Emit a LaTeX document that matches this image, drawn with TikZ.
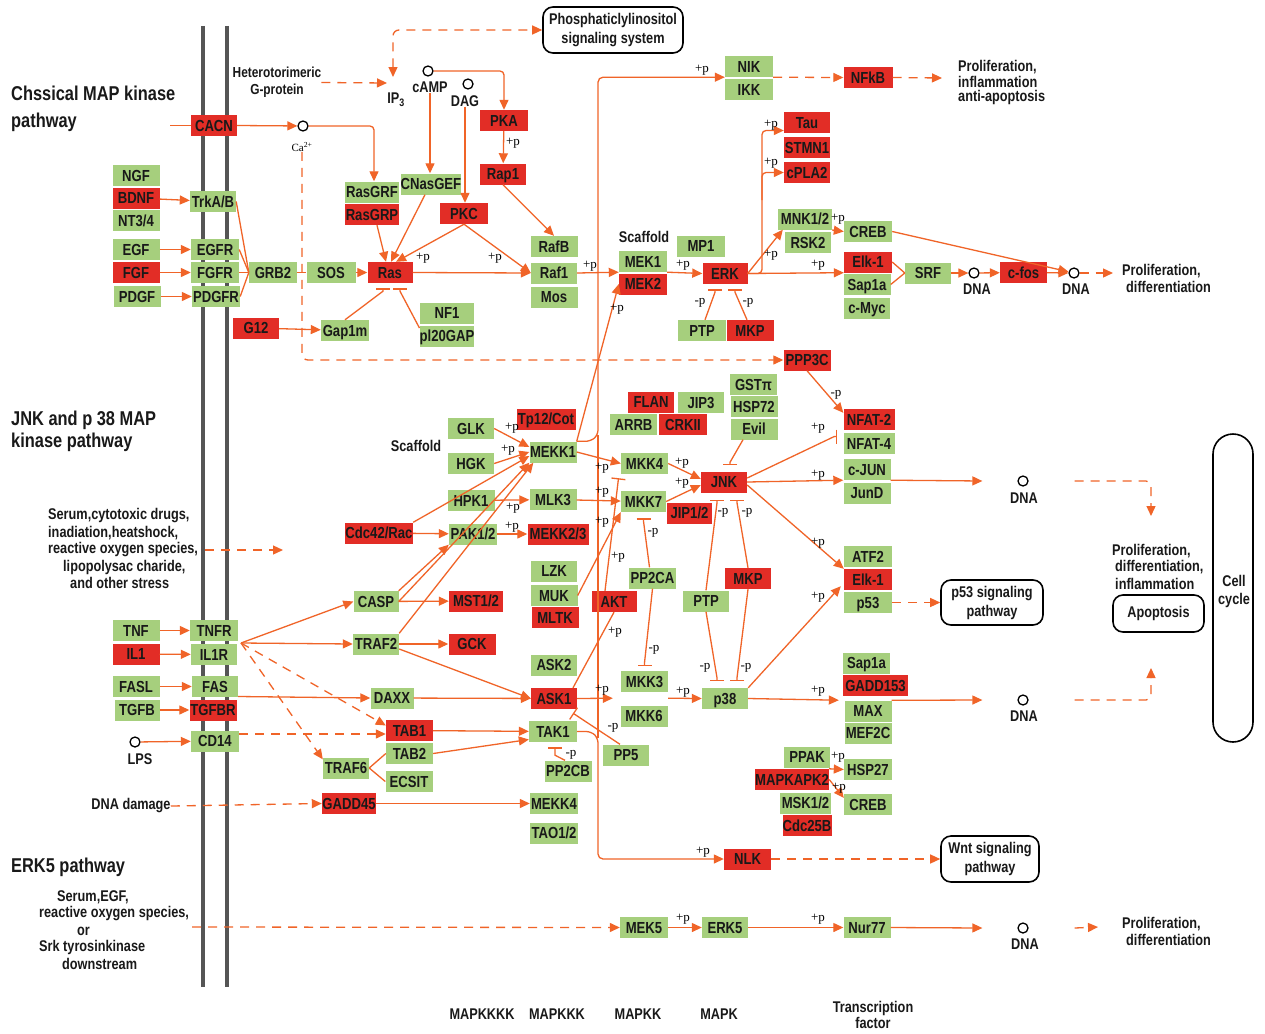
\documentclass[tikz,border=0pt]{standalone}
\usepackage{fontspec}
\setmainfont{Liberation Sans}[FakeStretch=0.82]
\newfontfamily\pfont{Liberation Serif}
\usetikzlibrary{arrows.meta,calc}
\definecolor{kgreen}{RGB}{166,207,125}
\definecolor{kred}{RGB}{226,45,38}
\definecolor{lc}{RGB}{240,100,40}
\definecolor{mem}{RGB}{85,85,85}
\definecolor{tc}{RGB}{25,25,25}
\tikzset{
 box/.style={minimum height=21, inner sep=0pt, text height=12, text depth=0.5, text=tc, font=\bfseries\fontsize{16}{18}\selectfont},
 gbox/.style={box, fill=kgreen},
 rbox/.style={box, fill=kred},
 ln/.style={draw=lc, line width=1.3pt},
 ar/.style={ln, -{Triangle[length=10pt,width=9pt]}},
 da/.style={ar, dash pattern=on 9pt off 7pt},
 inh/.style={ln, -{Bar[width=14pt,line width=1.3pt]}},
 pl/.style={font=\pfont\fontsize{13}{13}\selectfont, inner sep=0pt},
 txt/.style={font=\bfseries\fontsize{15.5}{16}\selectfont, inner sep=0pt, text=tc},
 hd/.style={font=\bfseries\fontsize{20}{22}\selectfont, inner sep=0pt, anchor=west, text=tc},
 dna/.style={circle, draw=black, line width=1.3pt, minimum size=10, inner sep=0pt},
 rbx/.style={draw=black, line width=1.6pt, rounded corners=10, fill=white, align=center, text=tc, font=\bfseries\fontsize{15.5}{19}\selectfont, inner sep=0pt},
}
\newcommand{\GBox}[4]{\node[gbox,minimum width=#4] (#1) at (#2) {#3};}
\newcommand{\RBox}[4]{\node[rbox,minimum width=#4] (#1) at (#2) {#3};}
\newcommand{\PLab}[3]{\node[pl] (#1) at (#2) {#3};}
\newcommand{\TLeft}[3]{\node[txt,anchor=west] (#1) at (#2) {#3};}
\newcommand{\TCen}[3]{\node[txt] (#1) at (#2) {#3};}
\begin{document}
\begin{tikzpicture}[x=1pt,y=-1pt]
\fill[white] (0,0) rectangle (1265,1033);
\useasboundingbox (0,0) rectangle (1265,1033);
\draw[mem, line width=4.5pt] (203,26) -- (203,987);
\draw[mem, line width=4.5pt] (227,26) -- (227,987);

% ---------- nodes: classical MAPK
\RBox{CACN}{214,125.5}{CACN}{46}
\GBox{NGF}{136,175.5}{NGF}{47}
\RBox{BDNF}{136,198}{BDNF}{47}
\GBox{NT34}{136,220.5}{NT3/4}{47}
\GBox{EGF}{136,249.5}{EGF}{47}
\RBox{FGF}{136,272.5}{FGF}{47}
\GBox{PDGF}{137,296.5}{PDGF}{47}
\GBox{TrkA}{213,201.5}{TrkA/B}{46}
\GBox{EGFR}{215,249.5}{EGFR}{48}
\GBox{FGFR}{215,272.5}{FGFR}{48}
\GBox{PDGFR}{216,296.5}{PDGFR}{48}
\GBox{GRB2}{273,272.5}{GRB2}{48}
\GBox{SOS}{331,272.5}{SOS}{49}
\RBox{Ras}{390,272.5}{Ras}{45}
\GBox{RasGRF}{372,192}{RasGRF}{54}
\RBox{RasGRP}{372,214.5}{RasGRP}{54}
\GBox{CNasGEF}{431,184}{CNasGEF}{57}
\RBox{PKA}{504,120.5}{PKA}{48}
\RBox{Rap1}{503,174}{Rap1}{46}
\RBox{PKC}{464,213.5}{PKC}{48}
\GBox{RafB}{554,246.5}{RafB}{47}
\GBox{Raf1}{554,273}{Raf1}{46}
\GBox{Mos}{554,297}{Mos}{47}
\RBox{G12}{256,328}{G12}{46}
\GBox{Gap1m}{345,330.5}{Gap1m}{48}
\GBox{NF1}{447,313}{NF1}{54}
\GBox{pl20GAP}{447,336}{pl20GAP}{54}
\GBox{MEK1}{643,261.5}{MEK1}{48}
\RBox{MEK2}{643,284}{MEK2}{48}
\GBox{MP1}{701,246}{MP1}{48}
\RBox{ERK}{725,273.5}{ERK}{45}
\GBox{PTP1}{702,330.5}{PTP}{48}
\RBox{MKP1}{750,330.5}{MKP}{47}
\GBox{NIK}{749,66.5}{NIK}{48}
\GBox{IKK}{749,89.5}{IKK}{48}
\RBox{NFkB}{868,77.5}{NFkB}{49}
\RBox{Tau}{807,122.5}{Tau}{46}
\RBox{STMN1}{807,147.5}{STMN1}{46}
\RBox{cPLA2}{807,172.5}{cPLA2}{46}
\GBox{MNK}{805,219}{MNK1/2}{54}
\GBox{RSK2}{808,242.5}{RSK2}{46}
\GBox{CREB1}{868,231.5}{CREB}{48}
\RBox{Elk1a}{868,262}{Elk-1}{48}
\GBox{Sap1a1}{867,284.5}{Sap1a}{47}
\GBox{cMyc}{867,308}{c-Myc}{46}
\GBox{SRF}{928,273}{SRF}{46}
\RBox{cfos}{1023.5,272.5}{c-fos}{47}
\RBox{PPP3C}{807,360}{PPP3C}{47}

% ---------- nodes: JNK / p38
\GBox{GLK}{471,428.5}{GLK}{46}
\GBox{HGK}{471,463.5}{HGK}{46}
\RBox{Tp12}{546,419}{Tp12/Cot}{59}
\GBox{MEKK1}{553,452}{MEKK1}{47}
\GBox{HPK1}{471,500.5}{HPK1}{47}
\GBox{MLK3}{553,499.5}{MLK3}{47}
\RBox{Cdc42}{379,533}{Cdc42/Rac}{68}
\GBox{PAK}{473,534}{PAK1/2}{48}
\RBox{MEKK23}{558,534}{MEKK2/3}{61}
\GBox{LZK}{554,571}{LZK}{46}
\GBox{MUK}{554,595.5}{MUK}{47}
\RBox{MLTK}{555,617.5}{MLTK}{47}
\RBox{AKT}{614,601.5}{AKT}{45}
\RBox{FLAN}{651,402}{FLAN}{46}
\GBox{JIP3}{701,402.5}{JIP3}{46}
\GBox{ARRB}{633.5,424.5}{ARRB}{47}
\RBox{CRKII}{683,424.5}{CRKII}{48}
\GBox{GSTpi}{753.5,384.5}{GSTπ}{47}
\GBox{HSP72}{754,406.5}{HSP72}{47}
\GBox{Evil}{754,429}{Evil}{47}
\GBox{MKK4}{644.5,463.5}{MKK4}{47}
\GBox{MKK7}{643.5,501.5}{MKK7}{45}
\RBox{JNK}{724,482}{JNK}{46}
\RBox{JIP12}{689.5,513}{JIP1/2}{45}
\GBox{PP2CA}{652.5,578}{PP2CA}{47}
\GBox{PTP2}{706,601}{PTP}{46}
\RBox{MKP2}{748,578.5}{MKP}{46}
\RBox{NFAT2}{869,419.5}{NFAT-2}{51}
\GBox{NFAT4}{869,443.5}{NFAT-4}{51}
\GBox{cJUN}{867,469.5}{c-JUN}{47}
\GBox{JunD}{867,493}{JunD}{47}
\GBox{ATF2}{868,556.5}{ATF2}{48}
\RBox{Elk1b}{868,579.5}{Elk-1}{48}
\GBox{p53}{868,602.5}{p53}{48}
\GBox{CASP}{376,601.5}{CASP}{45}
\RBox{MST}{476,601}{MST1/2}{54}
\GBox{TRAF2}{376,644}{TRAF2}{46}
\RBox{GCK}{472,644}{GCK}{47}
\GBox{TNF}{136,630.5}{TNF}{47}
\RBox{IL1}{136,654}{IL1}{47}
\GBox{TNFR}{214,630.5}{TNFR}{48}
\GBox{IL1R}{214,654.5}{IL1R}{46}
\GBox{FASL}{136,686.5}{FASL}{47}
\GBox{FAS}{215,686.5}{FAS}{46}
\GBox{TGFB}{137,710}{TGFB}{45}
\RBox{TGFBR}{213,710}{TGFBR}{47}
\GBox{CD14}{215,741}{CD14}{48}
\GBox{DAXX}{392,698}{DAXX}{43}
\GBox{ASK2}{554,665}{ASK2}{46}
\RBox{ASK1}{554,698.5}{ASK1}{46}
\GBox{MKK3}{644.5,681.5}{MKK3}{47}
\GBox{MKK6}{644,716}{MKK6}{47}
\GBox{p38}{725,698.5}{p38}{46}
\RBox{TAB1}{409.5,730.5}{TAB1}{47}
\GBox{TAB2}{409.5,753.5}{TAB2}{47}
\GBox{ECSIT}{409,781.5}{ECSIT}{47}
\GBox{TRAF6}{346,768}{TRAF6}{46}
\GBox{TAK1}{553,731.5}{TAK1}{48}
\GBox{PP5}{626,755}{PP5}{46}
\GBox{PP2CB}{568,771}{PP2CB}{47}
\RBox{GADD45}{349,803.5}{GADD45}{54}
\GBox{MEKK4}{554,803.5}{MEKK4}{48}
\GBox{TAO}{554,833}{TAO1/2}{48}
\GBox{Sap1a2}{866.5,663}{Sap1a}{47}
\RBox{GADD153}{875.5,685.5}{GADD153}{65}
\GBox{MAX}{868,711}{MAX}{47}
\GBox{MEF2C}{868,733}{MEF2C}{47}
\GBox{PPAK}{807,757}{PPAK}{46}
\RBox{MAPKAPK2}{792,779.5}{MAPKAPK2}{74}
\GBox{MSK}{805.5,803}{MSK1/2}{51}
\RBox{Cdc25B}{807,825.5}{Cdc25B}{49}
\GBox{HSP27}{868,769.5}{HSP27}{48}
\GBox{CREB2}{868,804.5}{CREB}{48}
\RBox{NLK}{747.5,859}{NLK}{47}
\GBox{MEK5}{644,927.5}{MEK5}{48}
\GBox{ERK5}{725,927.5}{ERK5}{46}
\GBox{Nur77}{867,927.5}{Nur77}{47}

% ---------- small circles
\node[dna] (Ca) at (303,126) {};
\node[dna] (cAMP) at (428,71) {};
\node[dna] (DAG) at (468,84) {};
\node[dna] (dna1) at (974,273) {};
\node[dna] (dna2) at (1074,273) {};
\node[dna] (dna3) at (1023,481) {};
\node[dna] (dna4) at (1023,700) {};
\node[dna] (dna5) at (1023,928) {};
\node[dna] (LPS) at (135,742) {};

% ---------- rounded boxes
\node[rbx, minimum width=140, minimum height=46] (Phos) at (613,30) {Phosphaticlylinositol\\signaling system};
\node[rbx, minimum width=102, minimum height=45] (p53sig) at (992,602.5) {p53 signaling\\pathway};
\node[rbx, minimum width=98, minimum height=46] (Wnt) at (990,859) {Wnt signaling\\pathway};
\node[rbx, minimum width=91, minimum height=37] (Apop) at (1158.5,613.5) {Apoptosis};
\node[rbx, minimum width=40, minimum height=308, rounded corners=20] (Cell) at (1233,588) {};
\node[txt, align=center, font=\bfseries\fontsize{15.5}{18}\selectfont] (cellt) at (1234,591) {Cell\\cycle};

% ---------- texts
\node[hd] (h1a) at (11,93) {Chssical MAP kinase};
\node[hd] (h1b) at (11,122) {pathway};
\node[hd] (h2a) at (11,420) {JNK and p 38 MAP};
\node[hd] (h2b) at (11,442) {kinase pathway};
\node[hd] (h3) at (11,867) {ERK5 pathway};
\node[txt, align=center, font=\bfseries\fontsize{14.5}{17}\selectfont] (het) at (277,82.5) {Heterotorimeric\\G-protein};
\TCen{ip3}{396,100}{IP\textsubscript{3}}
\TCen{cAMPl}{430,87}{cAMP}
\TCen{DAGl}{465,101}{DAG}
\node[pl, font=\pfont\fontsize{11}{11}\selectfont] (catext) at (302,147) {Ca\textsuperscript{2+}};
\TCen{lpsl}{140,759}{LPS}
\TCen{scaf1}{644,237}{Scaffold}
\TCen{scaf2}{416,446}{Scaffold}
\TCen{dnal1}{977,289}{DNA}
\TCen{dnal2}{1076,289}{DNA}
\TCen{dnal3}{1024,498}{DNA}
\TCen{dnal4}{1024,716}{DNA}
\TCen{dnal5}{1025,944}{DNA}
\TLeft{pa1}{958,67}{Proliferation,}
\TLeft{pa2}{958,82}{inflammation}
\TLeft{pa3}{958,97}{anti-apoptosis}
\TLeft{pb1}{1122,271}{Proliferation,}
\TLeft{pb2}{1126,287}{differentiation}
\TLeft{pc1}{1112,551}{Proliferation,}
\TLeft{pc2}{1115,567}{differentiation,}
\TLeft{pc3}{1115,584}{inflammation}
\TLeft{pd1}{1122,924}{Proliferation,}
\TLeft{pd2}{1126,940}{differentiation}
\TLeft{s1}{48,516}{Serum,cytotoxic drugs,}
\TLeft{s2}{48,533}{inadiation,heatshock,}
\TLeft{s3}{48,550}{reactive oxygen species,}
\TLeft{s4}{63,567}{lipopolysac charide,}
\TLeft{s5}{70,583}{and other stress}
\TLeft{e1}{57,897}{Serum,EGF,}
\TLeft{e2}{39,914}{reactive oxygen species,}
\TLeft{e3}{77,931}{or}
\TLeft{e4}{39,947}{Srk tyrosinkinase}
\TLeft{e5}{62,964}{downstream}
\TCen{dnad}{131,806}{DNA damage}
\TCen{b1}{482,1014}{MAPKKKK}
\TCen{b2}{557,1014}{MAPKKK}
\TCen{b3}{638,1014}{MAPKK}
\TCen{b4}{719,1014}{MAPK}
\node[txt, align=center, font=\bfseries\fontsize{15.5}{13}\selectfont] (b5) at (873,1015) {Transcription\\factor};

% ---------- connectors: classical
\coordinate (cacnin) at (170,125.5);
\draw[ln] (cacnin) -- (CACN.west);
\draw[ar] (CACN.east) -- (Ca);
\draw[ar, rounded corners=4] (Ca.east) -| ([xshift=2]RasGRF.north);
\draw[da, rounded corners=6] (catext.south) |- (PPP3C.west);
\coordinate (ip3in) at (387,83);
\draw[da] (het.east) -- (ip3in);
\coordinate (ip3top) at (393,77);
\draw[da, {Triangle[length=10pt,width=9pt]}-{Triangle[length=10pt,width=9pt]}, rounded corners=6] (ip3top) |- (Phos.west);
\draw[ar, rounded corners=4] (cAMP.east) -| (PKA.north);
\draw[ar] (cAMPl.south) -- (cAMPl.south |- CNasGEF.north);
\draw[ar] (DAGl.south) -- (DAGl.south |- PKC.north);
\draw[ar] (PKA) -- (Rap1);
\draw[ar] (Rap1.south) -- (RafB.north);
\draw[ar] ([xshift=5]RasGRP.south) -- ([xshift=-4]Ras.north);
\draw[ar] ([xshift=-6]CNasGEF.south) -- ([xshift=1]Ras.north);
\draw[ar] (PKC.south) -- ([xshift=6]Ras.north);
\draw[ar] (PKC.south) -- (Raf1.west);
\draw[ar] (Ras.east) -- (Raf1.west);
\draw[ar] (SOS) -- (Ras);
\draw[ln] (GRB2) -- (SOS);
\draw[ar] (BDNF) -- (TrkA);
\draw[ar] (EGF) -- (EGFR);
\draw[ar] (FGF) -- (FGFR);
\draw[ar] (PDGF) -- (PDGFR);
\draw[ln] (TrkA.east) -- (GRB2.west);
\draw[ln] (EGFR.east) -- (GRB2.west);
\draw[ln] (FGFR.east) -- (GRB2.west);
\draw[ln] (PDGFR.east) -- (GRB2.west);
\draw[ar] (G12) -- (Gap1m);
\draw[inh] (Gap1m.north) -- ([xshift=-7,yshift=-8]Ras.south) -- ([xshift=-7,yshift=-5]Ras.south);
\draw[inh] ([yshift=8]pl20GAP.west) -- ([xshift=10,yshift=-8]Ras.south) -- ([xshift=10,yshift=-5]Ras.south);
\draw[ar] (Raf1.east) -- (MEK1.south west);
\draw[ar] (MEK1.south east) -- (ERK.west);
\draw[inh] ([xshift=3]PTP1.north) -- ([xshift=-10,yshift=-8]ERK.south) -- ([xshift=-10,yshift=-5]ERK.south);
\draw[inh] ([xshift=-3]MKP1.north) -- ([xshift=10,yshift=-8]ERK.south) -- ([xshift=10,yshift=-5]ERK.south);
\draw[ar] (ERK.east) -- ([xshift=5]MNK.south west);
\draw[ar, rounded corners=4] (ERK.east) -- (762,273.5) |- ([yshift=-8]Tau.west);
\draw[ar, rounded corners=4] (762,200) |- (cPLA2.west);
\draw[ar] (ERK.east) -- (Elk1a.south west);
\draw[ar] ([yshift=-11]MNK.east) -- (CREB1.west);
\draw[ar] (CREB1.east) -- (dna2);
\draw[ln] (Elk1a.east) -- (SRF.west);
\draw[ln] (Sap1a1.east) -- (SRF.west);
\draw[ar] (SRF) -- (dna1);
\draw[ar] (dna1) -- (cfos);
\draw[ar] (cfos) -- (dna2);
\coordinate (pe1) at (1113,273);
\draw[da] (dna2) -- (pe1);
\draw[ar, rounded corners=5] (MEKK1.north east) -- ++(14,0) -- (598,435) |- (NIK.south west);
\draw[ar, rounded corners=5] (TAK1.east) -- ++(14,0) -- (598,738) |- (NLK.west);
\draw[ln] (598,435) -- (598,738);
\draw[da] (NIK.south east) -- (NFkB.west);
\coordinate (pe0) at (942,78);
\draw[da] (NFkB.east) -- (pe0);
\draw[ar] (MEKK1.north east) -- (MEK2.west);

% ---------- connectors: JNK / p38
\draw[ar] (GLK.east) -- ([yshift=5]MEKK1.west);
\draw[ar] (HGK.east) -- (MEKK1.west);
\draw[ar] (Cdc42.north east) -- ([yshift=-4]MEKK1.west);
\draw[ar] (Cdc42) -- (PAK);
\draw[ar] (HPK1) -- (MLK3);
\draw[ar] (PAK) -- (MEKK23);
\draw[ar] (CASP.north east) -- (PAK.south west);
\draw[ar] (CASP.east) -- (MEKK1.south west);
\draw[ar] (TRAF2.north east) -- ([xshift=4]MEKK1.south west);
\draw[ar] (CASP) -- (MST);
\draw[ar] (TRAF2) -- (GCK);
\draw[ar] ([yshift=-5]TRAF2.east) -- (ASK1.west);
\draw[ar] (DAXX) -- (ASK1);
\coordinate (rj) at (241,643);
\draw[ar] (rj) -- (CASP.west);
\draw[ar] (rj) -- (TRAF2.west);
\draw[da] (rj) -- ([yshift=5]TAB1.west);
\draw[da] (rj) -- ([yshift=-2]TRAF6.north west);
\draw[ar] (TNF) -- (TNFR);
\draw[ar] (IL1) -- (IL1R);
\draw[ar] (FASL) -- (FAS);
\draw[ar] (TGFB) -- (TGFBR);
\draw[ar] (LPS) -- (CD14);
\draw[ar] ([yshift=-10]FAS.east) -- (DAXX.west);
\draw[da] ([yshift=7]CD14.east) -- ([yshift=-3.5]TAB1.west);
\draw[ln] (TRAF6.east) -- (TAB2.west);
\draw[ln] (TRAF6.east) -- (ECSIT.west);
\draw[ar] (TAB1) -- (TAK1);
\draw[ar] (TAB2.east) -- ([yshift=-8]TAK1.west);
\draw[ar] (GADD45) -- (MEKK4);
\draw[da] (dnad.east) -- (GADD45.west);
\draw[inh] ([xshift=-3]PP2CB.north) -- ([xshift=2,yshift=-13]TAK1.south) -- ([xshift=2,yshift=-5]TAK1.south);
\draw[inh] ([xshift=-6]PP5.north) -- ([xshift=19,yshift=-4]ASK1.south);
\draw[ar] (ASK1.east) -- ($(MKK3.south west)+(-8,6)$);
\draw[ar] ($(MKK3.south east)+(0,6)$) -- (p38.west);
\draw[ln] ([xshift=19]ASK1.north) -- (AKT.south);
\draw[inh] ([xshift=-9]AKT.north) -- ([xshift=-26,yshift=-4]MKK4.south);
\draw[ar] (MUK.east) -- (MKK7.south west);
\draw[ar] (MEKK1.east) -- (MKK4.west);
\draw[ar] (MLK3) -- (MKK7);
\draw[ar] (MKK4.east) -- ([yshift=3]JNK.west);
\draw[ar] (MKK7.east) -- ([yshift=-3]JNK.west);
\draw[inh] ([xshift=-11]Evil.south) -- ([xshift=6,yshift=9]JNK.north) -- ([xshift=6,yshift=6]JNK.north);
\draw[inh] (PTP2.north) -- ([xshift=-7,yshift=-10]JNK.south) -- ([xshift=-7,yshift=-7]JNK.south);
\draw[inh] (MKP2.north) -- ([xshift=13,yshift=-10]JNK.south) -- ([xshift=13,yshift=-7]JNK.south);
\draw[inh] (PTP2.south) -- ([xshift=-8,yshift=10]p38.north) -- ([xshift=-8,yshift=7]p38.north);
\draw[inh] (MKP2.south) -- ([xshift=12,yshift=10]p38.north) -- ([xshift=12,yshift=7]p38.north);
\draw[inh] ([xshift=-3]PP2CA.north) -- ([yshift=-9]MKK7.south) -- ([yshift=-6]MKK7.south);
\draw[inh] (PP2CA.south) -- ([yshift=8]MKK3.north) -- ([yshift=5]MKK3.north);
\draw[inh] ([yshift=4]JNK.east) -- ([xshift=-9,yshift=7]NFAT4.west) -- ([xshift=-6,yshift=7]NFAT4.west);
\draw[ar] (JNK.east) -- (cJUN.south west);
\draw[ar] ([yshift=-3]JNK.east) -- (Elk1b.north west);
\draw[ar] (PPP3C.south) -- ([yshift=-4]NFAT2.north west);
\draw[ar] (cJUN.south east) -- ([xshift=-35]dna3.west);
\coordinate (pe3) at (1151,516);
\draw[da, rounded corners=5] ([xshift=46]dna3.east) -| (pe3);
\draw[ar] (p38.north east) -- ([xshift=-3,yshift=4]Elk1b.south west);
\draw[da] (p53) -- (p53sig);
\draw[ar] (p38.east) -- ([xshift=-4,yshift=-4]GADD153.south west);
\draw[ar] (MAX.north east) -- ([xshift=-35]dna4.west);
\coordinate (pe4) at (1151,668);
\draw[da, rounded corners=5] ([xshift=46]dna4.east) -| (pe4);
\draw[ar] (MAPKAPK2.north east) -- (HSP27.west);
\draw[ar] (MAPKAPK2.east) -- ([yshift=-4]CREB2.north west);
\draw[da] (NLK) -- (Wnt);
\draw[ar] (MEK5) -- (ERK5);
\draw[ar] (ERK5) -- (Nur77);
\draw[ar] (Nur77.east) -- ([xshift=-35]dna5.west);
\coordinate (pe5) at (1098,927);
\draw[da] ([xshift=46]dna5.east) -- (pe5);
\coordinate (e5in) at (192,927);
\draw[da] (e5in) -- (MEK5.west);
\coordinate (stin) at (205,550);
\coordinate (stout) at (283,550);
\draw[da] (stin) -- (stout);

% ---------- +p / -p labels
\PLab{q1}{513,143}{+p}
\PLab{q2}{423,258}{+p}
\PLab{q3}{495,258}{+p}
\PLab{q4}{590,266}{+p}
\PLab{q5}{683,265}{+p}
\PLab{q6}{700,303}{-p}
\PLab{q7}{748,303}{-p}
\PLab{q8}{771,125}{+p}
\PLab{q9}{771,163}{+p}
\PLab{q10}{771,255}{+p}
\PLab{q11}{838,219}{+p}
\PLab{q12}{818,265}{+p}
\PLab{q13}{702,70}{+p}
\PLab{q14}{617,309}{+p}
\PLab{q15}{512,428}{+p}
\PLab{q16}{508,450}{+p}
\PLab{q17}{513,508}{+p}
\PLab{q18}{512,527}{+p}
\PLab{q19}{602,468}{+p}
\PLab{q20}{602,492}{+p}
\PLab{q21}{682,463}{+p}
\PLab{q22}{682,483}{+p}
\PLab{q23}{602,522}{+p}
\PLab{q24}{618,557}{+p}
\PLab{q25}{615,632}{+p}
\PLab{q26}{653,533}{-p}
\PLab{q27}{654,650}{-p}
\PLab{q28}{723,513}{-p}
\PLab{q29}{747,513}{-p}
\PLab{q30}{705,668}{-p}
\PLab{q31}{746,668}{-p}
\PLab{q32}{836,395}{-p}
\PLab{q33}{818,428}{+p}
\PLab{q34}{818,475}{+p}
\PLab{q35}{818,543}{+p}
\PLab{q36}{818,597}{+p}
\PLab{q37}{818,691}{+p}
\PLab{q38}{602,690}{+p}
\PLab{q39}{683,692}{+p}
\PLab{q40}{613,728}{-p}
\PLab{q41}{571,755}{-p}
\PLab{q42}{703,852}{+p}
\PLab{q43}{838,757}{+p}
\PLab{q44}{839,788}{+p}
\PLab{q45}{683,919}{+p}
\PLab{q46}{818,919}{+p}
\end{tikzpicture}
\end{document}
